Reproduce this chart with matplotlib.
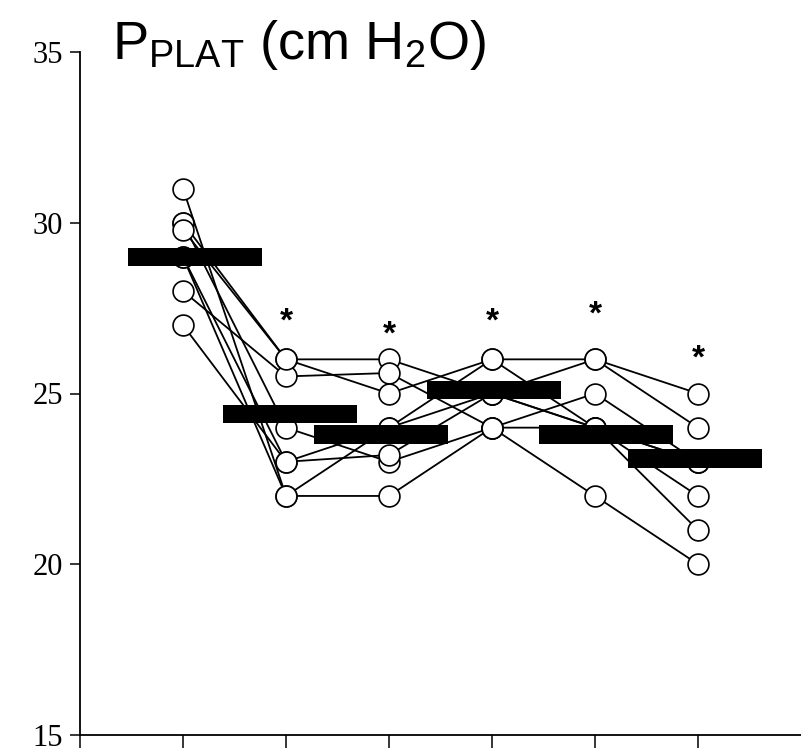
import numpy as np
import matplotlib
matplotlib.use("Agg")
import matplotlib.pyplot as plt

plt.rcParams['mathtext.fontset'] = 'custom'
plt.rcParams['mathtext.rm'] = 'Liberation Sans'
plt.rcParams['mathtext.it'] = 'Liberation Sans'

# time points (x positions of the six measurements)
x_pos = [1, 2, 3, 4, 5, 6]

# individual subjects, plateau pressure cm H2O
subj_a = [30.0, 26.0, 26.0, 25.0, 24.0, 23.0]
subj_b = [28.0, 25.5, 25.6, 24.0, 25.0, 23.0]
subj_c = [31.0, 22.0, 22.0, 24.0, 22.0, 20.0]
subj_d = [30.0, 24.0, 23.0, 24.0, 24.0, 22.0]
subj_e = [29.0, 23.0, 24.0, 26.0, 26.0, 25.0]
subj_f = [29.8, 26.0, 25.0, 26.0, 24.0, 21.0]
subj_g = [27.0, 23.0, 23.2, 25.0, 26.0, 24.0]
subj_h = [29.0, 22.0, 24.0, 25.0, 24.0, 23.0]
subjects = [subj_a, subj_b, subj_c, subj_d, subj_e, subj_f, subj_g, subj_h]

# group means (black bars)
means = [29.0, 24.4, 23.8, 25.1, 23.8, 23.1]

# significance marks
star_x = [2, 3, 4, 5, 6]
star_y = [27.1, 26.7, 27.1, 27.3, 26.0]

# bars are not exactly centred on the columns in the original
bar_shift = [0.12, 0.04, -0.08, 0.02, 0.11, -0.03]

fig = plt.figure(figsize=(8.01, 7.52), dpi=100)
ax = fig.add_axes([80 / 801, 17 / 752, 721 / 801, 683 / 752])

for s in subjects:
    ax.plot(x_pos, s, color='black', lw=1.3, zorder=2,
            marker='o', ms=15, mfc='white', mec='black', mew=1.2)

bar_w = 1.3
bar_h = 0.55
ax.bar([x + d for x, d in zip(x_pos, bar_shift)], [bar_h] * len(means), width=bar_w,
       bottom=[m - bar_h / 2 for m in means], color='black', zorder=4)

for sx, sy in zip(star_x, star_y):
    ax.text(sx, sy, '*', ha='center', va='center', fontsize=24,
            fontweight='bold', family='Liberation Sans', zorder=5)

ax.set_xlim(0, 7)
ax.set_ylim(15, 35)
ax.set_xticks([0, 1, 2, 3, 4, 5, 6])
ax.set_xticklabels([])
ax.set_yticks([15, 20, 25, 30, 35])
ax.set_yticklabels(['15', '20', '25', '30', '35'], family='Liberation Serif', fontsize=22)
ax.tick_params(axis='x', direction='out', length=9, width=1.1)
ax.tick_params(axis='y', direction='out', length=7, width=1.1, pad=5)
for side in ['top', 'right']:
    ax.spines[side].set_visible(False)
for side in ['left', 'bottom']:
    ax.spines[side].set_linewidth(1.3)

fig.text(112 / 801, 1 - 18 / 752, r'$\mathregular{P_{PLAT}}$ (cm H$\mathregular{_2}$O)',
         ha='left', va='top', fontsize=39, family='Liberation Sans')

fig.savefig('out.png', dpi=100)
